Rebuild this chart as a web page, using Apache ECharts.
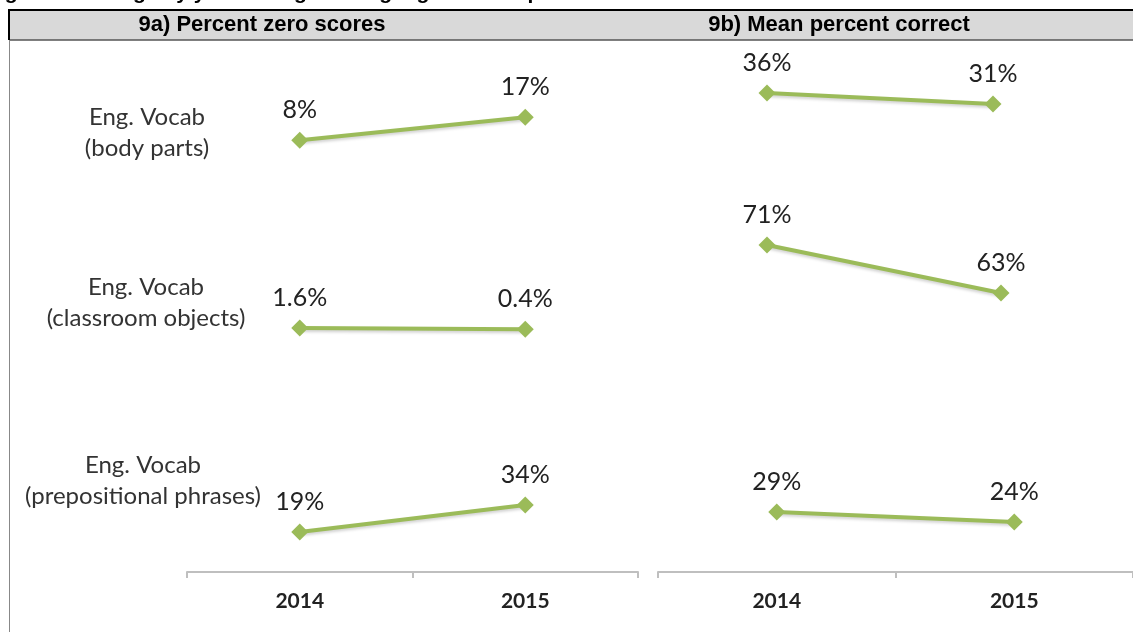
<!DOCTYPE html>
<html>
<head>
<meta charset="utf-8">
<title>English vocab change by year</title>
<script src="https://cdn.jsdelivr.net/npm/echarts@6/dist/echarts.min.js"></script>
<style>
  html, body { margin: 0; padding: 0; background: #fff; }
  #chart { width: 1133px; height: 632px; }
</style>
</head>
<body>
<div id="chart"></div>
<script>
// data
const years = ['2014', '2015']
const rowLabels = ['Eng. Vocab\n(body parts)', 'Eng. Vocab\n(classroom objects)', 'Eng. Vocab\n(prepositional phrases)']
const panelTitles = ['9a) Percent zero scores', '9b) Mean percent correct']

// 9a) percent zero scores
const zeroBodyParts = [8, 17]
const zeroClassroom = [1.6, 0.4]
const zeroPrepPhrases = [19, 34]

// 9b) mean percent correct
const meanBodyParts = [36, 31]
const meanClassroom = [71, 63]
const meanPrepPhrases = [29, 24]

const green = '#9bbb59'
const textColor = '#222'

// each row sits on its own hidden value axis, these ranges put it in its band
const leftRanges = [[-161, 43.3], [-242.4, 279.6], [-3.2, 286.8]]
const rightRanges = [[-181.7, 55.6], [16.5, 103.5], [-1, 260]]

const chart = echarts.init(document.getElementById('chart'))

function hiddenY(range, gridIndex) {
  return {
    type: 'value',
    gridIndex: gridIndex,
    min: range[0],
    max: range[1],
    show: false
  }
}

function xAxisFor(gridIndex, visible) {
  return {
    type: 'category',
    gridIndex: gridIndex,
    data: years,
    boundaryGap: true,
    show: visible,
    axisLine: { onZero: false, lineStyle: { color: '#bfbfbf', width: 2 } },
    axisTick: { show: true, length: 6, lineStyle: { color: '#bfbfbf', width: 2 } },
    axisLabel: {
      color: textColor,
      fontFamily: 'Lato',
      fontWeight: 'bold',
      fontSize: 21,
      margin: 19
    }
  }
}

function lineSeries(values, xIdx, yIdx) {
  return {
    type: 'line',
    xAxisIndex: xIdx,
    yAxisIndex: yIdx,
    data: values,
    symbol: 'diamond',
    symbolSize: 17,
    itemStyle: { color: green },
    lineStyle: {
      color: green,
      width: 4,
      shadowColor: 'rgba(0,0,0,0.18)',
      shadowBlur: 3,
      shadowOffsetY: 2
    },
    label: {
      show: true,
      position: 'top',
      distance: 9,
      color: textColor,
      fontFamily: 'Lato',
      fontSize: 25,
      formatter: p => p.value + '%'
    },
    animation: false
  }
}

function rowText(text, x, y) {
  return {
    type: 'text', x: x, y: y, silent: true,
    style: { text: text, font: '24px Lato', fill: '#333', align: 'center', verticalAlign: 'middle', lineHeight: 31 }
  }
}

chart.setOption({
  backgroundColor: '#fff',
  grid: [
    // 9a, one grid for all three rows
    { left: 187, width: 451, top: 50, bottom: 60 },
    // 9b, rows were drawn as separate small charts, slightly shifted
    { left: 654, width: 452, top: 50, bottom: 60 },
    { left: 650, width: 468, top: 50, bottom: 60 },
    { left: 658, width: 482, top: 50, bottom: 60 }
  ],
  xAxis: [xAxisFor(0, true), xAxisFor(1, false), xAxisFor(2, false), xAxisFor(3, true)],
  yAxis: [
    hiddenY(leftRanges[0], 0), hiddenY(leftRanges[1], 0), hiddenY(leftRanges[2], 0),
    hiddenY(rightRanges[0], 1), hiddenY(rightRanges[1], 2), hiddenY(rightRanges[2], 3)
  ],
  series: [
    lineSeries(zeroBodyParts, 0, 0),
    lineSeries(zeroClassroom, 0, 1),
    lineSeries(zeroPrepPhrases, 0, 2),
    lineSeries(meanBodyParts, 1, 3),
    lineSeries(meanClassroom, 2, 4),
    lineSeries(meanPrepPhrases, 3, 5)
  ],
  graphic: [
    // partly cut figure caption above the table
    {
      type: 'text', left: -14, top: -17, silent: true,
      style: {
        text: 'Figure 9: Change by year in English language subtest performance',
        font: 'bold 21px "Liberation Sans"', fill: '#000'
      }
    },
    // header band
    { type: 'rect', shape: { x: 9, y: 10, width: 1124, height: 30 }, style: { fill: '#d9d9d9' }, silent: true },
    { type: 'line', shape: { x1: 9, y1: 10, x2: 1133, y2: 10 }, style: { stroke: '#000', lineWidth: 2 }, silent: true },
    { type: 'line', shape: { x1: 9, y1: 40, x2: 1133, y2: 40 }, style: { stroke: '#555', lineWidth: 1.5 }, silent: true },
    { type: 'line', shape: { x1: 9, y1: 9, x2: 9, y2: 40 }, style: { stroke: '#000', lineWidth: 2 }, silent: true },
    { type: 'line', shape: { x1: 9.5, y1: 40, x2: 9.5, y2: 632 }, style: { stroke: '#888', lineWidth: 1 }, silent: true },
    {
      type: 'text', x: 262, y: 25, silent: true,
      style: { text: panelTitles[0], font: 'bold 22px "Liberation Sans"', fill: '#000', align: 'center', verticalAlign: 'middle' }
    },
    {
      type: 'text', x: 839, y: 25, silent: true,
      style: { text: panelTitles[1], font: 'bold 22px "Liberation Sans"', fill: '#000', align: 'center', verticalAlign: 'middle' }
    },
    // row labels
    rowText(rowLabels[0], 147, 133),
    rowText(rowLabels[1], 146, 303),
    rowText(rowLabels[2], 143, 481)
  ]
})
</script>
</body>
</html>
